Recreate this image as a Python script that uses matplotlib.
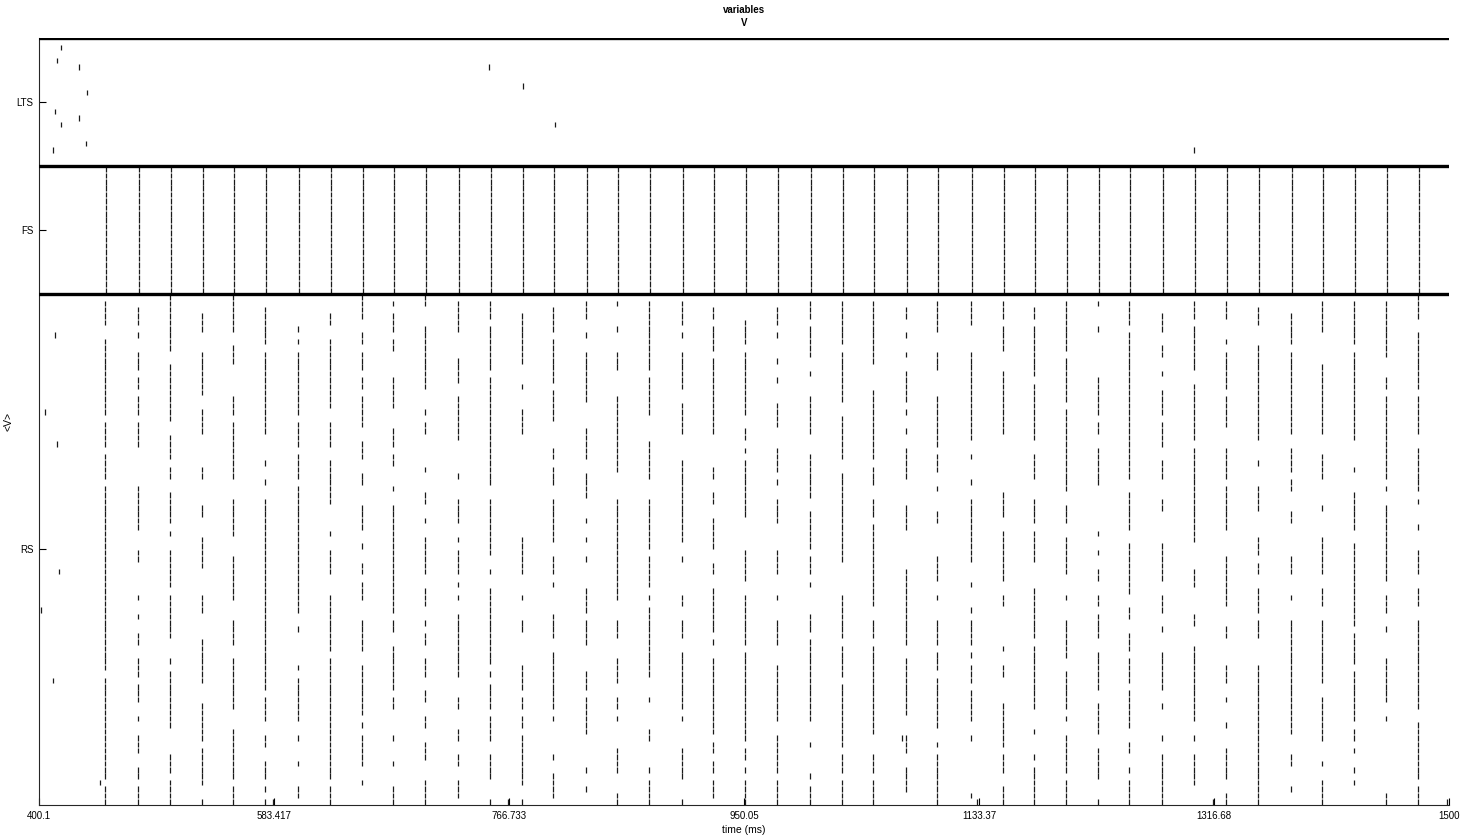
import matplotlib.pyplot as plt
import numpy as np

plt.rcParams['font.family'] = ['Liberation Sans', 'DejaVu Sans']

# population sizes (rows from top: LTS, FS, RS)
n_lts, n_fs, n_rs = 20, 20, 80

# LTS spikes: (cell, time ms)
lts_cells = [1, 3, 4, 8, 11, 12, 13, 16, 17, 4, 7, 13, 17]
lts_times = [417.3, 414.1, 431.3, 437.5, 412.6, 431.3, 417.3, 436.8, 411.0,
             751.1, 777.6, 802.5, 1300.9]

# gamma cycle times (RS volley), ms
cycle_times = [451.6, 477.3, 502.3, 527.2, 551.4, 576.4, 602.1, 627.1, 652.1, 676.2,
               701.2, 726.9, 751.9, 776.9, 801.0, 826.8, 851.0, 875.9, 901.7, 925.9,
               950.8, 975.8, 1001.5, 1026.5, 1050.7, 1076.4, 1100.6, 1127.1, 1152.1, 1176.3,
               1201.2, 1226.2, 1250.4, 1276.1, 1301.1, 1326.0, 1351.0, 1376.7, 1400.9, 1425.9,
               1450.8, 1475.8]
fs_delay = 0.8  # FS fire slightly after the RS volley

# RS cells firing in each cycle
rs_cycles = [
    "1-4,7-18,20-23,25-28,30-58,60-75,77-79",
    "2-4,6,9-11,13-14,16-18,20-23,30-36,40-41,47,50,53-54,57-59,61-63,66,69-71,74-75,77-79",
    "0-8,11-19,22-25,27-28,31-35,37,40-45,47-53,57,59-67,72-74,76-79",
    "3-5,9-15,18-21,27-28,33-34,38-42,47-49,54-60,64-69,71-76,79",
    "0-5,8-10,16-18,20-28,32-37,41-47,51-54,57-64,68-75,77-79",
    "2-7,9-21,26,29,32-61,63-66,69-70,73-75,77,79",
    "5,7,9-18,20-23,25-28,30-49,52,58,60-66,69,73,77-78",
    "3-4,7-17,20-23,26-32,37,40-43,47-55,57-75,77-79",
    "0-3,6-7,9-11,13-14,16-20,23-25,28-29,33-36,39,42-43,45-47,51-55,58-65,67,69-73,76",
    "1,3-5,7-8,13-17,21-23,25-26,30,33-49,51-52,55-61,63-64,69,73,77-79",
    "0-1,5-14,18,20-21,27,31-32,35,38-43,46-48,51,53-54,57-59,62-63,66-67,70-72,76-79",
    "1-5,10-13,16-22,28,32-35,38,40-43,45,47,50-59,63-64,68-69,72-73,76-78",
    "1-3,5-11,13-29,32-40,43,46-57,59,61-64,66-69,72-75,79",
    "3-10,14,18-21,38-43,47,51-52,58-61,63-64,66-67,69-76,79",
    "2-5,7-13,15-19,24-25,27-29,32-38,41-43,45,50-53,56-64,66,72,75-78",
    "1-3,6,9-16,21-25,28-31,35,38,41,46-49,51-54,59-61,63-68,74,77",
    "1,5,9-11,16-27,32-47,51-53,57-60,63-64,66,71-74,78-79",
    "1-11,13-18,23-28,32-39,41-45,47,49-59,63,68-69,74,76-79",
    "1-4,6,9-14,17-21,26-38,41,47-48,51-53,56-64,66,71-75,79",
    "2-3,5-8,10-21,27-28,31-32,35-39,42-43,46-52,54,57-68,70-71,73-74,76-78",
    "4-7,9-18,21-22,24,26-34,40-44,47-54,56-69,71-72,74,76-79",
    "2-4,6,10,13,17-20,24-27,29,32-35,40-43,47,51-54,58-66,69-74,76-79",
    "1-3,5-9,12,16-21,25-31,34-39,41-43,45,50-52,54-66,70,75,77-79",
    "1-7,9-16,19-25,28-41,47-53,55-59,61-70,72-74,76-79",
    "1-10,15-25,27-29,32-34,36-48,51-53,55-68,72-74,76-79",
    "2-3,6,9,12-16,18,21,24-28,33-36,43-54,57-65,69-71,74-77",
    "1-5,9-11,16-23,25-27,30,34-35,41-44,47,51-54,56-58,60-67,70,72-79",
    "1-4,9-22,25,29,32-41,45,49,51-54,56,58-60,62-66,69,78",
    "1-3,5-8,12-21,31-34,37-44,47-48,55,58-59,64-70,72-74,77-79",
    "2-3,5-12,14-22,25-28,32-35,37-41,46-53,55-64,68,72,74-79",
    "1-8,10-16,18-30,33-35,38-43,47,51-56,59-64,66,69-74,76-79",
    "1,5,13-18,20-21,24-29,37,40,43-44,47-48,50-53,56-61,64-68,71-75,79",
    "1-4,6-28,31-36,39-46,49-50,53-55,57-60,62-67,70-71,74,76-79",
    "3-5,8-9,12,15-18,20-23,26-28,32-33,39-44,47-49,52,56-61,64,69,72-79",
    "1-3,5-11,14-22,24-38,43-45,50-51,55-66,69,72-76",
    "1-3,7,9-14,16-20,24-28,30-36,41-48,52-53,58-60,63,67,71-75,78-79",
    "2-4,8-22,26,30-33,38-40,42-43,46-49,51-53,58-79",
    "3-7,9-21,24-27,29-30,34-35,41-43,47,51-68,72-73,77",
    "1-5,11-21,25-28,33,38-43,46-48,51-60,63-69,73,76-79",
    "1-7,9-22,27,31-36,39-51,53-57,59-66,68-69,71,74,76",
    "1-9,13-14,16-28,30,33-44,47-49,52,57-63,66,78-79",
    "0-3,6-14,16-21,24-30,32,36,40-43,46-48,51-64,67-75,77-79",
]

# RS spikes outside the volleys
rs_extra_cells = [6, 18, 23, 43, 49, 60, 76, 79, 79, 69, 79, 79, 79]
rs_extra_times = [412.6, 404.8, 414.1, 415.7, 401.7, 411.0, 447.7, 582.6, 765.9,
                  1073.2, 1131.8, 1315.8, 1498.4]

xticks = [400.1, 583.417, 766.733, 950.05, 1133.37, 1316.68, 1500]
xtick_labels = ['400.1', '583.417', '766.733', '950.05', '1133.37', '1316.68', '1500']


def parse(s):
    rows = []
    for part in s.split(','):
        a, _, b = part.partition('-')
        rows += range(int(a), int(b or a) + 1)
    return rows


fig = plt.figure(figsize=(14.64, 8.38), dpi=100)
ax = fig.add_axes([39 / 1464, 1 - 805 / 838, 1410 / 1464, 767 / 838])

tt, yy = [], []
for c, t in zip(lts_cells, lts_times):
    tt.append(t); yy.append(c)
for t in cycle_times:
    for c in range(n_fs):
        tt.append(t + fs_delay); yy.append(n_lts + c)
for t, s in zip(cycle_times, rs_cycles):
    for c in parse(s):
        tt.append(t); yy.append(n_lts + n_fs + c)
for c, t in zip(rs_extra_cells, rs_extra_times):
    tt.append(t); yy.append(n_lts + n_fs + c)

yy = np.array(yy)
ax.vlines(tt, yy + 0.07, yy + 0.93, color='#1a1a1a', lw=0.9)

# population separators
for yb in [0, n_lts, n_lts + n_fs]:
    ax.axhline(yb, color='black', lw=2.4, zorder=5)

ax.set_xlim(400.1, 1500)
ax.set_ylim(n_lts + n_fs + n_rs, 0)
ax.set_xticks(xticks)
ax.set_xticklabels(xtick_labels)
ax.set_yticks([n_lts / 2, n_lts + n_fs / 2, n_lts + n_fs + n_rs / 2])
ax.set_yticklabels(['LTS', 'FS', 'RS'])
ax.tick_params(direction='in', length=5, labelsize=7, width=0.8, pad=4)
for side in ['top', 'right']:
    ax.spines[side].set_visible(False)
for side in ['left', 'bottom']:
    ax.spines[side].set_linewidth(0.8)
    ax.spines[side].set_color('#262626')

ax.set_xlabel('time (ms)', fontsize=7.5, labelpad=3)
ax.set_ylabel('<V>', fontsize=7.5)
ax.yaxis.set_label_coords(-0.018, 0.5)
ax.set_title('variables\nV', fontsize=7, fontweight='bold', pad=9, linespacing=1.3)

fig.savefig('out.png', dpi=100)
